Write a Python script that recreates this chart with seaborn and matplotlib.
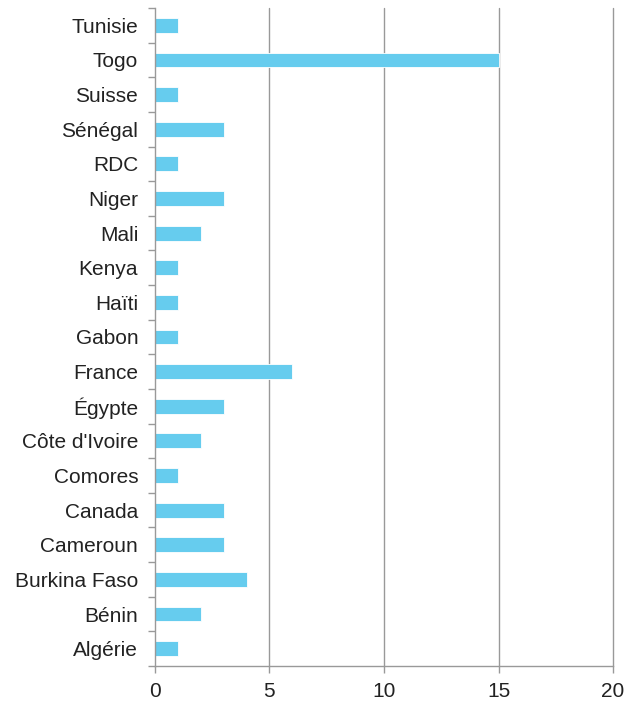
import matplotlib
matplotlib.use("Agg")
import matplotlib.pyplot as plt
import numpy as np
import pandas as pd
import seaborn as sns

countries = ["Tunisie", "Togo", "Suisse", "Sénégal", "RDC", "Niger", "Mali",
             "Kenya", "Haïti", "Gabon", "France", "Égypte", "Côte d'Ivoire",
             "Comores", "Canada", "Cameroun", "Burkina Faso", "Bénin", "Algérie"]
counts = [1, 15, 1, 3, 1, 3, 2, 1, 1, 1, 6, 3, 2, 1, 3, 3, 4, 2, 1]
x_ticks = [0, 5, 10, 15, 20]

df = pd.DataFrame({"pays": countries, "n": counts})

sns.set_theme(style="white")
plt.rcParams["font.family"] = ["Liberation Sans", "DejaVu Sans"]

fig = plt.figure(figsize=(6.4, 7.02), dpi=100)
ax = fig.add_axes([0.242, 0.0513, 0.716, 0.9373])

sns.barplot(data=df, x="n", y="pays", orient="h", color="#66CCEE",
            saturation=1, width=0.43, edgecolor="white", linewidth=0.6, ax=ax)

ax.set_xlim(0, 20)
ax.set_ylim(len(countries) - 0.5, -0.5)
ax.set_xticks(x_ticks)
ax.set_xticklabels([str(t) for t in x_ticks])
ax.set_xlabel("")
ax.set_ylabel("")

# vertical gridlines
for t in x_ticks[1:]:
    ax.axvline(t, color="#999999", linewidth=1, zorder=0, clip_on=False)

# category separators on the left spine
ax.set_yticks(np.arange(-0.5, len(countries), 1), minor=True)
ax.tick_params(axis="y", which="minor", length=5, width=1, color="#999999", left=True)
ax.tick_params(axis="y", which="major", length=0, pad=12, labelsize=15, labelcolor="#222222")
ax.tick_params(axis="x", which="major", length=5, width=1, color="#999999",
               bottom=True, pad=6.5, labelsize=15, labelcolor="#222222")

for side in ["top", "right"]:
    ax.spines[side].set_visible(False)
for side in ["left", "bottom"]:
    ax.spines[side].set_color("#999999")
    ax.spines[side].set_linewidth(1)

fig.savefig("out.png", dpi=100)
